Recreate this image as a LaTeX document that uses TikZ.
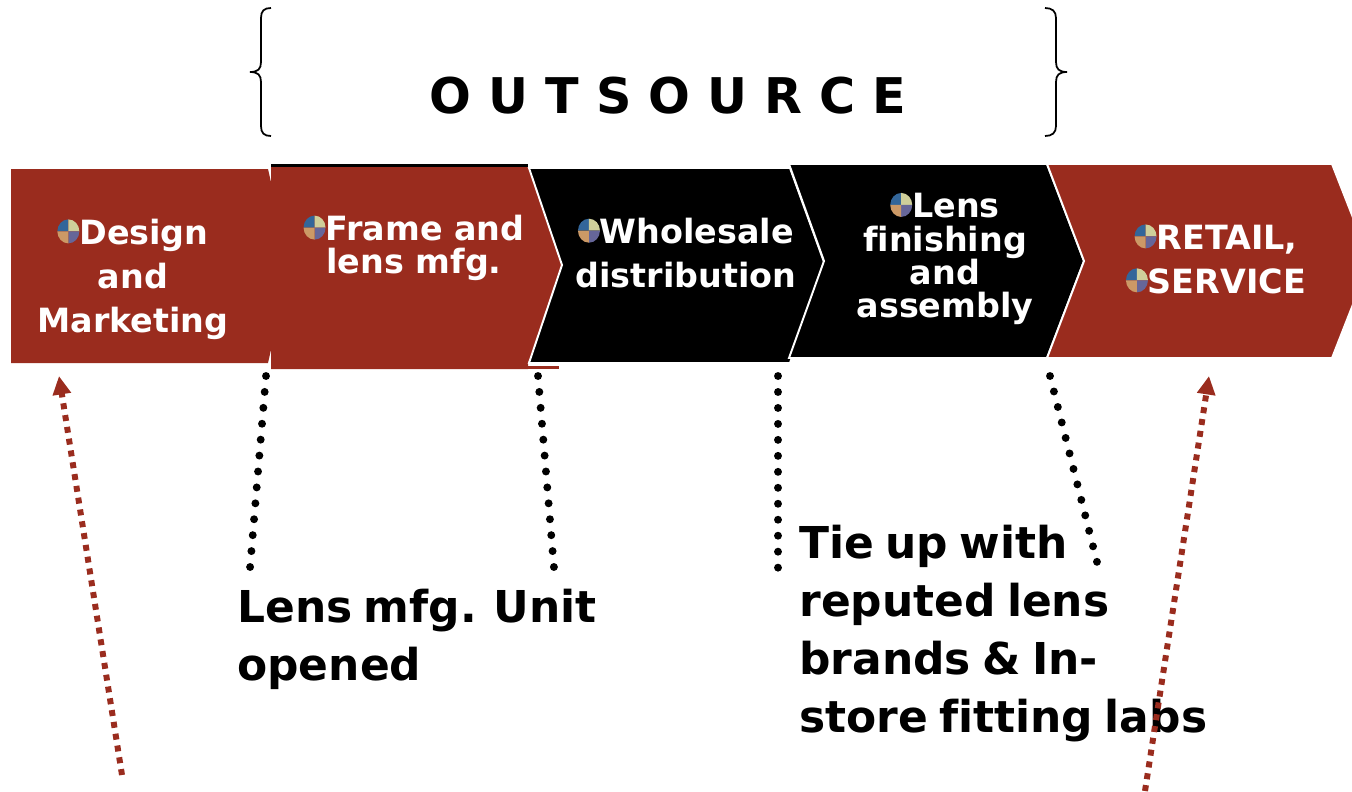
\documentclass[tikz,border=0pt]{standalone}
\usepackage{fontspec}
\setmainfont[Ligatures=NoCommon]{DejaVu Sans}
\usetikzlibrary{arrows.meta}
\definecolor{rust}{HTML}{9A2C1E}
\definecolor{pieblue}{HTML}{33669A}
\definecolor{piecream}{HTML}{CFCF9A}
\definecolor{pieorange}{HTML}{CC9966}
\definecolor{pieviolet}{HTML}{666699}
\newcommand{\piebullet}{\tikz[baseline=-0.7ex,x=0.02cm,y=0.02cm]{%
	\fill[pieblue] (0,0) -- (-11,0) arc (180:90:11 and 12) -- cycle;
	\fill[piecream] (0,0) -- (0,12) arc (90:0:11 and 12) -- cycle;
	\fill[pieviolet] (0,0) -- (11,0) arc (0:-90:11 and 12) -- cycle;
	\fill[pieorange] (0,0) -- (0,-12) arc (-90:-180:11 and 12) -- cycle;}}
\tikzset{
	steptext/.style={text=white,font=\bfseries\fontsize{19}{19}\selectfont,align=center,inner sep=0pt},
	belowtext/.style={text=black,font={\bfseries\fontsize{25}{33}\selectfont\spaceskip=.26em\relax},align=left,anchor=north west,inner sep=0pt},
	dotline/.style={line width=4.5pt,line cap=round,dash pattern=on 0pt off 9.09pt},
	redarrow/.style={rust,line width=3.4pt,dash pattern=on 3.4pt off 3.4pt,-{Triangle[length=10.5pt,width=10pt]}}
}
\begin{document}
\begin{tikzpicture}[x=0.02cm,y=-0.02cm]
	\useasboundingbox (0,0) rectangle (1352,791);
	% value chain
	\fill[rust] (11,169) -- (268,169) -- (290,266) -- (268,363) -- (11,363) -- cycle;
	\draw[black,line width=2pt] (271,165.5) -- (528,165.5);
	\fill[rust] (271,167) -- (528,167) -- (566,265) -- (528,363) -- (528,369) -- (271,369) -- cycle;
	\fill[rust] (271,365.5) rectangle (559,369);
	\filldraw[fill=black,draw=white,line width=1.1pt] (529,168) -- (790,168) -- (824,262) -- (790,363) -- (529,363) -- (562,265) -- cycle;
	\filldraw[fill=black,draw=white,line width=1.1pt] (789,164) -- (1047,164) -- (1084,261) -- (1047,358) -- (789,358) -- (824,261) -- cycle;
	\filldraw[fill=rust,draw=white,line width=1.1pt] (1047,164) -- (1332,164) -- (1370,261) -- (1332,358) -- (1047,358) -- (1084,261) -- cycle;
	\node[steptext] (design) at (133,279) {\piebullet Design\\[6pt]and\\[6pt]Marketing};
	\node[steptext] (frame) at (414,248) {\piebullet Frame and\\lens mfg.};
	\node[steptext] (wholesale) at (686,253) {\piebullet Wholesale\\[6pt]distribution};
	\node[steptext] (finishing) at (945,259) {\piebullet Lens\\finishing\\and\\assembly};
	\node[steptext] (retail) at (1216,259) {\piebullet RETAIL,\\[6pt]\piebullet SERVICE};
	% outsource
	\node[font=\bfseries\fontsize{28}{28}\selectfont,inner sep=0pt] (outsource) at (668,96) {O U T S O U R C E};
	\draw[line width=1pt] (271,8) .. controls (264,8) and (261,11) .. (261,18) -- (261,62) .. controls (261,69) and (258,72) .. (250,72) .. controls (258,72) and (261,75) .. (261,82) -- (261,126) .. controls (261,133) and (264,136) .. (271,136);
	\draw[line width=1pt] (1045,8) .. controls (1052,8) and (1056,11) .. (1056,18) -- (1056,62) .. controls (1056,69) and (1059,72) .. (1067,72) .. controls (1059,72) and (1056,75) .. (1056,82) -- (1056,126) .. controls (1056,133) and (1052,136) .. (1045,136);
	% dotted leaders
	\coordinate (d1a) at (266,376);
	\coordinate (d1b) at (250,568);
	\coordinate (d2a) at (538,376);
	\coordinate (d2b) at (554,568);
	\coordinate (d3a) at (778,376);
	\coordinate (d3b) at (778,568);
	\coordinate (d4a) at (1050,376);
	\coordinate (d4b) at (1097,562);
	\draw[dotline] (d1a) -- (d1b);
	\draw[dotline] (d2a) -- (d2b);
	\draw[dotline] (d3a) -- (d3b);
	\draw[dotline] (d4a) -- (d4b);
	% texts below
	\node[belowtext] (lensunit) at (237,589) {Lens mfg. Unit\\opened};
	\node[belowtext] (tieup) at (799,525) {Tie up with\\reputed lens\\brands \& In-\\store fitting labs};
	% red arrows
	\coordinate (a1a) at (122,775);
	\coordinate (a1b) at (59,376);
	\coordinate (a2a) at (1145,791);
	\coordinate (a2b) at (1209,376);
	\draw[redarrow] (a1a) -- (a1b);
	\draw[redarrow] (a2a) -- (a2b);
\end{tikzpicture}
\end{document}
